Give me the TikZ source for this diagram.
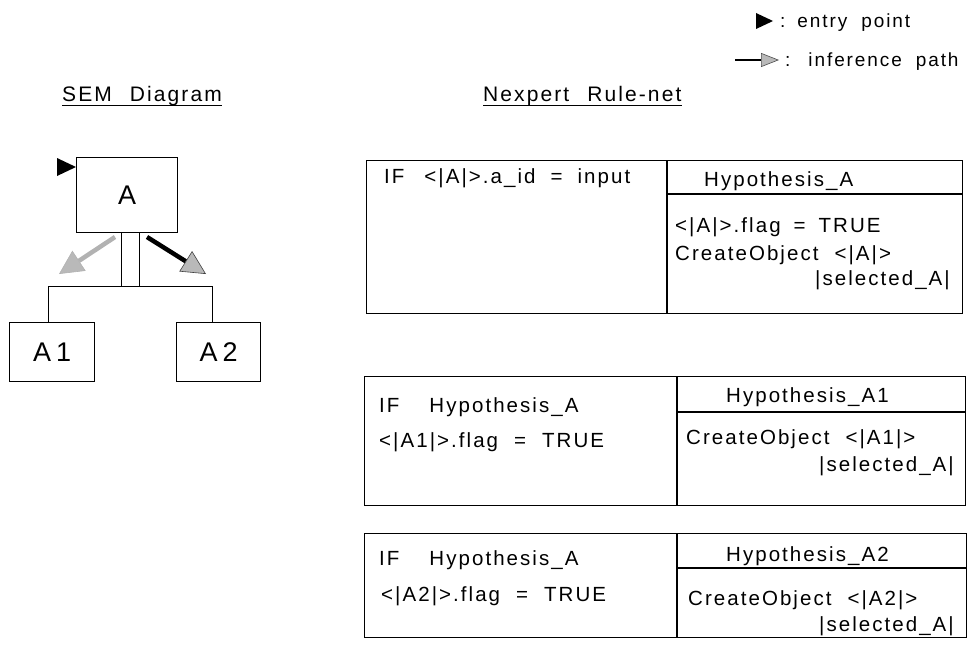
\documentclass[tikz,border=0pt]{standalone}
\usepackage{fontspec}
\setmainfont{Liberation Sans}
\newfontfamily\spacedfont[LetterSpace=10]{Liberation Sans}
\usetikzlibrary{calc,arrows.meta}
\newcommand\wg{\hspace{13pt}}
\begin{document}
\begin{tikzpicture}[x=1pt,y=-1pt,
  box/.style={draw, line width=1.1pt, inner sep=0pt},
  rtxt/.style={font=\spacedfont\fontsize{20.5}{23}\selectfont, inner sep=0pt, anchor=base west},
  rtxtr/.style={rtxt, anchor=base east},
  legtxt/.style={font=\spacedfont\fontsize{19}{22}\selectfont, inner sep=0pt, anchor=base west},
  title/.style={font=\spacedfont\fontsize{21}{24}\selectfont, inner sep=0pt, anchor=base west},
  semtxt/.style={font=\fontsize{27}{30}\selectfont},
  ruleline/.style={line width=1.1pt},
  conn/.style={line width=1.1pt},
  infer/.style={line width=4.5pt},
]
\useasboundingbox (0,0) rectangle (973,658);

% ---------- legend ----------
\coordinate (lt) at (756,13);
\fill (lt) -- ++(0,16) -- ++(17,-8) -- cycle;
\node[legtxt] (leg1) at (780,28) {:\hspace{12pt}entry\hspace{14pt}point};
\coordinate (la) at (735,60);
\coordinate (lb) at (779,60);
\draw[line width=1.8pt, -{Triangle[length=18pt,width=14pt,fill=gray!55,color=gray!60!black,line width=0.6pt]}] (la) -- (lb);
\node[legtxt] (leg2) at (785,67) {:\hspace{18pt}inference\hspace{14pt}path};

% ---------- titles ----------
\node[title] (t1) at (62,102) {SEM\hspace{18pt}Diagram};
\draw[line width=1pt] ([yshift=-4pt]t1.base west) -- ([yshift=-4pt]t1.base east);
\node[title] (t2) at (483,102) {Nexpert\hspace{18pt}Rule-net};
\draw[line width=1pt] ([yshift=-4pt]t2.base west) -- ([yshift=-4pt]t2.base east);

% ---------- SEM diagram ----------
\node[box, semtxt, minimum width=101pt, minimum height=75pt, anchor=north west] (A) at (76,157) {A};
\node[box, semtxt, minimum width=85pt, minimum height=59pt, anchor=north west] (A1) at (9,322) {A\hspace{5pt}1};
\node[box, semtxt, minimum width=84pt, minimum height=59pt, anchor=north west] (A2) at (176,322) {A\hspace{5pt}2};
\fill ([xshift=-19pt,yshift=-1pt]A.north west) -- ++(0,18) -- ++(19,-9) -- cycle;
\draw[conn] ([xshift=-6pt]A.south) -- ++(0,53) coordinate (jl);
\draw[conn] ([xshift=12pt]A.south) -- ++(0,53) coordinate (jr);
\draw[conn] ([xshift=-4pt]A1.north) |- ([xshift=-6pt]A2.north |- jl) -- ([xshift=-6pt]A2.north);
\coordinate (a1s) at (115,237);
\coordinate (a1e) at (59,274);
\coordinate (a2s) at (147,237);
\coordinate (a2e) at (206,274);
\draw[infer, draw=gray!60, -{Triangle[length=24pt,width=24pt,fill=gray!55,color=gray!60,line width=0.6pt]}] (a1s) -- (a1e);
\draw[infer, draw=black, -{Triangle[length=24pt,width=24pt,fill=gray!55,color=gray!50!black,line width=0.6pt]}] (a2s) -- (a2e);

% ---------- rule 1 ----------
\node[box, minimum width=596pt, minimum height=153pt, anchor=north west] (r1) at (366,160) {};
\coordinate (r1d) at (667,160);
\coordinate (r1h) at (667,194);
\draw[ruleline] (r1d) -- (r1d |- r1.south);
\draw[ruleline] (r1h) -- (r1h -| r1.east);
\node[rtxt] (r1a) at (384,183) {IF\hspace{20pt}<|A|>.a\_id\hspace{15pt}=\hspace{15pt}input};
\node[rtxt] (r1b) at (704,186) {Hypothesis\_A};
\node[rtxt] (r1c) at (675,232) {<|A|>.flag\wg =\wg TRUE};
\node[rtxt] (r1e) at (675,260) {CreateObject\hspace{16pt}<|A|>};
\node[rtxtr] (r1f) at (950,285) {|selected\_A|};

% ---------- rule 2 ----------
\node[box, minimum width=601pt, minimum height=129pt, anchor=north west] (r2) at (364,376) {};
\coordinate (r2d) at (677,376);
\coordinate (r2h) at (677,412);
\draw[ruleline] (r2d) -- (r2d |- r2.south);
\draw[ruleline] (r2h) -- (r2h -| r2.east);
\node[rtxt] (r2a) at (379,412) {IF\hspace{30pt}Hypothesis\_A};
\node[rtxt] (r2b) at (726,402) {Hypothesis\_A1};
\node[rtxt] (r2c) at (379,447) {<|A1|>.flag\hspace{16pt}=\hspace{16pt}TRUE};
\node[rtxt] (r2e) at (686,444) {CreateObject\hspace{16pt}<|A1|>};
\node[rtxtr] (r2f) at (954,471) {|selected\_A|};

% ---------- rule 3 ----------
\node[box, minimum width=602pt, minimum height=104pt, anchor=north west] (r3) at (364,533) {};
\coordinate (r3d) at (677,533);
\coordinate (r3h) at (677,568);
\draw[ruleline] (r3d) -- (r3d |- r3.south);
\draw[ruleline] (r3h) -- (r3h -| r3.east);
\node[rtxt] (r3a) at (379,565) {IF\hspace{30pt}Hypothesis\_A};
\node[rtxt] (r3b) at (726,561) {Hypothesis\_A2};
\node[rtxt] (r3c) at (381,601) {<|A2|>.flag\hspace{16pt}=\hspace{16pt}TRUE};
\node[rtxt] (r3e) at (688,605) {CreateObject\hspace{16pt}<|A2|>};
\node[rtxtr] (r3f) at (954,631) {|selected\_A|};
\end{tikzpicture}
\end{document}
